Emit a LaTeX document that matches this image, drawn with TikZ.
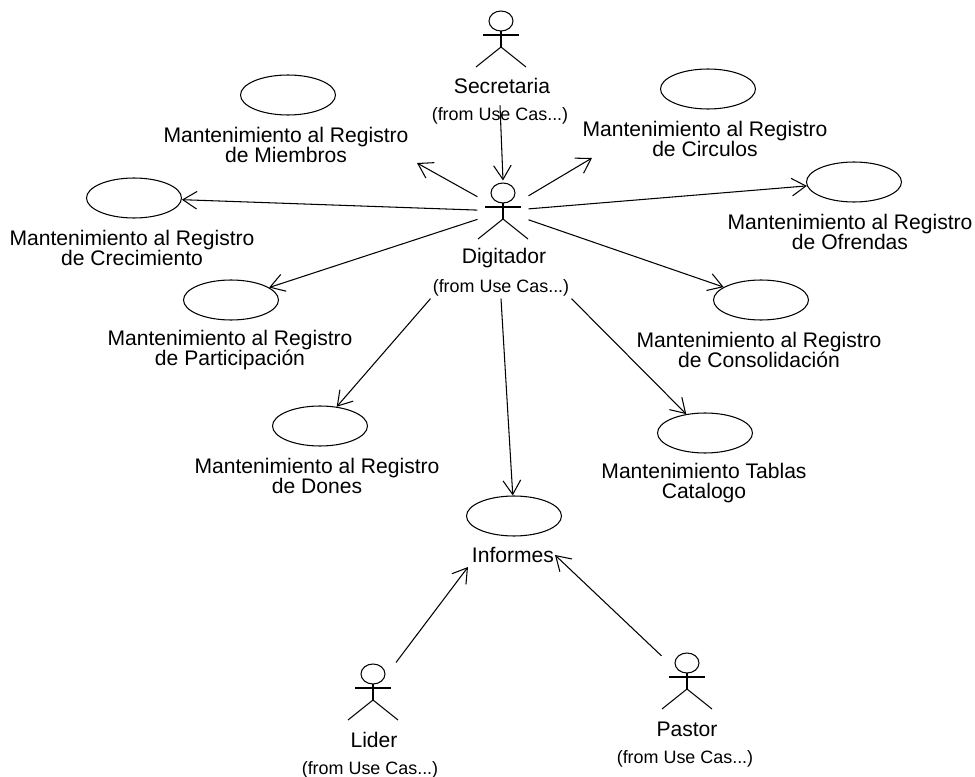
\documentclass[tikz,border=0pt]{standalone}
\usepackage{fontspec}
\setmainfont{Liberation Sans}
\usetikzlibrary{shapes.geometric,arrows.meta}

\begin{document}
\begin{tikzpicture}[x=0.02cm,y=-0.02cm,line width=0.6pt,
usecase/.style={ellipse,draw=black,minimum width=1.9cm,minimum height=0.8cm,inner sep=0pt},
textlabel/.style={align=center,inner sep=0pt,font=\fontsize{12}{11.4}\selectfont},
fromlabel/.style={inner sep=1pt,font=\fontsize{10.2}{12}\selectfont},
actorbox/.style={rectangle,minimum width=1cm,minimum height=1.2cm,inner sep=0pt},
assoc/.style={-{Straight Barb[length=8pt,width=10pt]}},
stickman/.pic={
\draw (0,0) ellipse (12 and 10);
\draw (-18,14) -- (18,14);
\draw (0,10) -- (0,26);
\draw (-25,46) -- (0,26) -- (25,46);
}]
\useasboundingbox (0,0) rectangle (975,777);

\pic at (501,21) {stickman};
\pic at (503,193) {stickman};
\pic at (373,674) {stickman};
\pic at (687,663) {stickman};

\node (digitador) at (503,211) [actorbox] {};
\node (lider) at (373,693) [actorbox] {};
\node (pastor) at (687,680) [actorbox] {};

\node (secretarialabel) at (502,86) [textlabel] {Secretaria};
\node (secretariafrom) at (500,116) [fromlabel] {(from Use Cas...)};
\node (digitadorlabel) at (504,258) [textlabel] {Digitador};
\node (digitadorfrom) at (501,288) [fromlabel] {(from Use Cas...)};
\node (liderlabel) at (374,740) [textlabel] {Lider};
\node (liderfrom) at (370,770) [fromlabel] {(from Use Cas...)};
\node (pastorlabel) at (687,729) [textlabel] {Pastor};
\node (pastorfrom) at (685,759) [fromlabel] {(from Use Cas...)};

\node (miembros) at (288,95) [usecase] {};
\node (miembroslabel) at (286,145) [textlabel] {Mantenimiento al Registro\\de Miembros};
\node (circulos) at (708,89) [usecase] {};
\node (circuloslabel) at (705,139) [textlabel] {Mantenimiento al Registro\\de Circulos};
\node (crecimiento) at (134,198) [usecase] {};
\node (crecimientolabel) at (132,248) [textlabel] {Mantenimiento al Registro\\de Crecimiento};
\node (ofrendas) at (854,182) [usecase] {};
\node (ofrendaslabel) at (850,232) [textlabel] {Mantenimiento al Registro\\de Ofrendas};
\node (participacion) at (231,300) [usecase] {};
\node (participacionlabel) at (230,350) [textlabel] {Mantenimiento al Registro\\de Participación};
\node (consolidacion) at (761,300) [usecase] {};
\node (consolidacionlabel) at (759,350) [textlabel] {Mantenimiento al Registro\\de Consolidación};
\node (dones) at (320,426) [usecase] {};
\node (doneslabel) at (317,476) [textlabel] {Mantenimiento al Registro\\de Dones};
\node (tablas) at (705,433) [usecase] {};
\node (tablaslabel) at (704,483) [textlabel] {Mantenimiento Tablas\\Catalogo};
\node (informes) at (514,516) [usecase] {};
\node (informeslabel) at (513,555) [textlabel] {Informes};

\coordinate (miembrosend) at (417,163);
\coordinate (circulosend) at (592,158);
\coordinate (liderend) at (468,567);
\coordinate (pastorend) at (555,555);

\draw [assoc] (secretariafrom.north) -- (digitador.north);
\draw [assoc] (digitador) -- (miembrosend);
\draw [assoc] (digitador) -- (circulosend);
\draw [assoc] (digitador) -- (crecimiento);
\draw [assoc] (digitador) -- (ofrendas);
\draw [assoc] (digitador) -- (participacion);
\draw [assoc] (digitador) -- (consolidacion);
\draw [assoc] (digitadorfrom.south west) -- (dones);
\draw [assoc] (digitadorfrom.south) -- (informes);
\draw [assoc] (digitadorfrom.south east) -- (tablas);
\draw [assoc] (lider) -- (liderend);
\draw [assoc] (pastor) -- (pastorend);
\end{tikzpicture}
\end{document}
